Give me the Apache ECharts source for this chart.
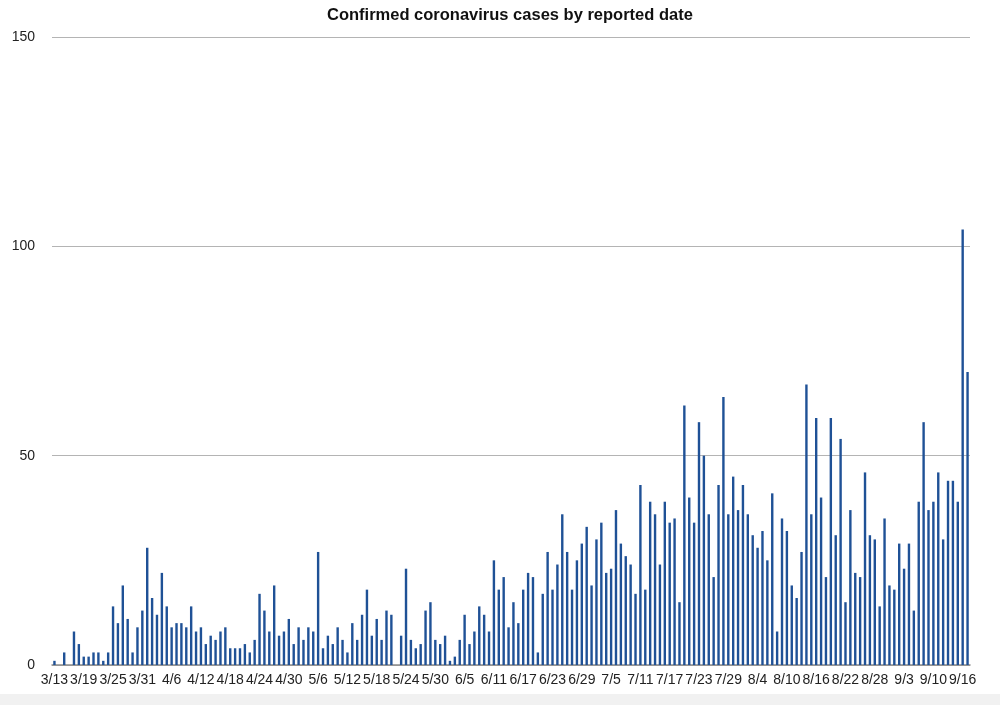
<!DOCTYPE html>
<html>
<head>
<meta charset="utf-8">
<script src="https://cdn.jsdelivr.net/npm/echarts@6/dist/echarts.min.js"></script>
<style>
html,body{margin:0;padding:0;background:#fff;}
#chart{width:1000px;height:705px;}
</style>
</head>
<body>
<div id="chart"></div>
<script>
const titleText = 'Confirmed coronavirus cases by reported date';

const dates = [
'3/13','3/14','3/15','3/16','3/17','3/18','3/19','3/20','3/21','3/22','3/23','3/24','3/25','3/26','3/27','3/28','3/29','3/30','3/31',
'4/1','4/2','4/3','4/4','4/5','4/6','4/7','4/8','4/9','4/10','4/11','4/12','4/13','4/14','4/15','4/16','4/17','4/18','4/19','4/20','4/21','4/22','4/23','4/24','4/25','4/26','4/27','4/28','4/29','4/30',
'5/1','5/2','5/3','5/4','5/5','5/6','5/7','5/8','5/9','5/10','5/11','5/12','5/13','5/14','5/15','5/16','5/17','5/18','5/19','5/20','5/21','5/22','5/23','5/24','5/25','5/26','5/27','5/28','5/29','5/30','5/31',
'6/1','6/2','6/3','6/4','6/5','6/6','6/7','6/8','6/9','6/10','6/11','6/12','6/13','6/14','6/15','6/16','6/17','6/18','6/19','6/20','6/21','6/22','6/23','6/24','6/25','6/26','6/27','6/28','6/29','6/30',
'7/1','7/2','7/3','7/4','7/5','7/6','7/7','7/8','7/9','7/10','7/11','7/12','7/13','7/14','7/15','7/16','7/17','7/18','7/19','7/20','7/21','7/22','7/23','7/24','7/25','7/26','7/27','7/28','7/29','7/30','7/31',
'8/1','8/2','8/3','8/4','8/5','8/6','8/7','8/8','8/9','8/10','8/11','8/12','8/13','8/14','8/15','8/16','8/17','8/18','8/19','8/20','8/21','8/22','8/23','8/24','8/25','8/26','8/27','8/28','8/29','8/30','8/31',
'9/1','9/2','9/3','9/4','9/5','9/6','9/8','9/9','9/10','9/11','9/12','9/13','9/14','9/15','9/16','9/17'
];

const casesMarApr = [1,0,3,0,8,5,2,2,3,3,1,3,14,10,19,11,3,9,13,
  28,16,12,22,14,9,10,10,9,14,8,9,5,7,6,8,9,4,4,4,5,3,6,17,13,8,19,7,8,11];
const casesMay = [5,9,6,9,8,27,4,7,5,9,6,3,10,6,12,18,7,11,6,13,12,0,7,23,6,4,5,13,15,6,5];
const casesJun = [7,1,2,6,12,5,8,14,12,8,25,18,21,9,15,10,18,22,21,3,17,27,18,24,36,27,18,25,29,33];
const casesJul = [19,30,34,22,23,37,29,26,24,17,43,18,39,36,24,39,34,35,15,62,40,34,58,50,36,21,43,64,36,45,37];
const casesAug = [43,36,31,28,32,25,41,8,35,32,19,16,27,67,36,59,40,21,59,31,54,15,37,22,21,46,31,30,14,35,19];
const casesSep = [18,29,23,29,13,39,58,37,39,46,30,44,44,39,104,70];

const cases = [].concat(casesMarApr, casesMay, casesJun, casesJul, casesAug, casesSep);

const yTicks = {min: 0, max: 150, interval: 50};

const chart = echarts.init(document.getElementById('chart'), null, {renderer: 'canvas'});
chart.setOption({
  backgroundColor: '#ffffff',
  animation: false,
  title: {
    text: titleText,
    left: 322,
    top: 2,
    textStyle: {fontFamily: 'Liberation Sans, Arial, sans-serif', fontSize: 16.5, fontWeight: 'bold', color: '#111'}
  },
  graphic: [{
    type: 'rect', left: 0, top: 694, shape: {width: 1000, height: 11},
    style: {fill: '#f1f1f1'}, silent: true, z: -10
  }],
  grid: {left: 52, right: 30, top: 37, bottom: 40, containLabel: false},
  xAxis: {
    type: 'category',
    data: dates,
    boundaryGap: true,
    axisLine: {show: true, lineStyle: {color: '#8a8a8a', width: 1.5}},
    axisTick: {show: false},
    axisLabel: {
      interval: 5,
      color: '#222',
      fontFamily: 'Liberation Sans, Arial, sans-serif',
      fontSize: 14,
      margin: 8,
      hideOverlap: false
    },
    splitLine: {show: false}
  },
  yAxis: {
    type: 'value',
    min: yTicks.min,
    max: yTicks.max,
    interval: yTicks.interval,
    axisLine: {show: false},
    axisTick: {show: false},
    axisLabel: {
      color: '#222',
      fontFamily: 'Liberation Sans, Arial, sans-serif',
      fontSize: 14,
      margin: 17
    },
    splitLine: {show: true, lineStyle: {color: '#b4b4b4', width: 1}}
  },
  series: [{
    type: 'bar',
    data: cases,
    barWidth: 2.4,
    itemStyle: {color: '#1f5196'},
    silent: true
  }]
});
</script>
</body>
</html>
